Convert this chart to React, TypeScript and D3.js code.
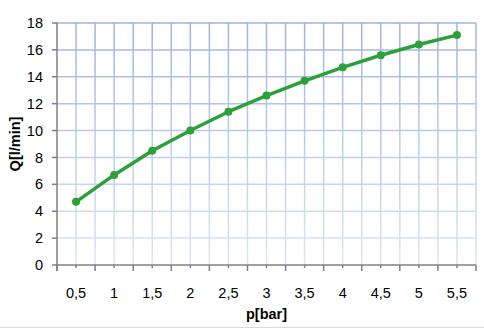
import React from 'react';
import * as d3 from 'd3';

const pressures = ['0,5', '1', '1,5', '2', '2,5', '3', '3,5', '4', '4,5', '5', '5,5'];
const flow = [4.7, 6.7, 8.5, 10.0, 11.4, 12.6, 13.7, 14.7, 15.6, 16.4, 17.1];
const yTicks = [0, 2, 4, 6, 8, 10, 12, 14, 16, 18];

const W = 484;
const H = 329;
const m = { top: 23, right: 8, bottom: 64, left: 57 };
const FONT = '"Liberation Sans", Arial, sans-serif';
const FS = 14.5;

export default function App() {
  const x = d3.scaleBand<string>().domain(pressures).range([m.left, W - m.right]).padding(0);
  const y = d3.scaleLinear().domain([0, 18]).range([H - m.bottom, m.top]);
  const bw = x.bandwidth();
  const cx = (p: string) => (x(p) as number) + bw / 2;

  const line = d3.line<number>()
    .x((_, i) => cx(pressures[i]))
    .y(d => y(d));

  const bounds = [...pressures.map(p => x(p) as number), x.range()[1]];
  const x0 = m.left;
  const x1 = W - m.right;
  const yb = y(0);

  return (
    <svg width={W} height={H} style={{ position: 'absolute', left: 0, top: 0, background: '#fff' }}>
      <defs>
        <linearGradient id="grid" gradientUnits="userSpaceOnUse" x1="0" y1={m.top} x2="0" y2={yb}>
          <stop offset="0" stopColor="#9db4e2" />
          <stop offset="1" stopColor="#dde5f5" />
        </linearGradient>
      </defs>
      {/* vertical gridlines at boundaries and centers */}
      {bounds.slice(1).map((b, i) => (
        <line key={'vb' + i} x1={b} x2={b} y1={m.top} y2={yb} stroke="url(#grid)" strokeWidth={1.5} />
      ))}
      {pressures.map(p => (
        <line key={'vc' + p} x1={cx(p)} x2={cx(p)} y1={m.top} y2={yb} stroke="url(#grid)" strokeWidth={1.5} />
      ))}
      {/* horizontal gridlines */}
      {yTicks.slice(1).map(t => (
        <line key={'h' + t} x1={x0} x2={x1} y1={y(t)} y2={y(t)} stroke="url(#grid)" strokeWidth={1.5} />
      ))}
      {/* y axis */}
      <line x1={x0} x2={x0} y1={m.top} y2={yb + 6} stroke="#808080" strokeWidth={1.5} />
      {yTicks.map(t => (
        <g key={'yt' + t}>
          <line x1={x0 - 5} x2={x0} y1={y(t)} y2={y(t)} stroke="#808080" strokeWidth={1.5} />
          <text x={x0 - 14} y={y(t)} dy="0.35em" textAnchor="end" fontFamily={FONT} fontSize={FS} fill="#000">{t}</text>
        </g>
      ))}
      {/* x axis */}
      <line x1={x0} x2={x1} y1={yb} y2={yb} stroke="#808080" strokeWidth={1.5} />
      {bounds.map((b, i) => (
        <line key={'xb' + i} x1={b} x2={b} y1={yb} y2={yb + 6} stroke="#808080" strokeWidth={1.5} />
      ))}
      {pressures.map(p => (
        <g key={'xt' + p}>
          <line x1={cx(p)} x2={cx(p)} y1={yb} y2={yb + 3} stroke="#808080" strokeWidth={1.5} />
          <text x={cx(p)} y={yb + 33} textAnchor="middle" fontFamily={FONT} fontSize={FS} fill="#000">{p}</text>
        </g>
      ))}
      {/* series */}
      <path d={line(flow) ?? ''} fill="none" stroke="#2ca039" strokeWidth={3.5} strokeLinejoin="round" />
      {flow.map((v, i) => (
        <circle key={'pt' + i} cx={cx(pressures[i])} cy={y(v)} r={4} fill="#2ca039" />
      ))}
      {/* axis titles */}
      <text x={(x0 + x1) / 2} y={H - 10} textAnchor="middle" fontFamily={FONT} fontSize={FS} fontWeight="bold" fill="#000">p[bar]</text>
      <text transform={`translate(20,${(m.top + yb) / 2}) rotate(-90)`} textAnchor="middle" fontFamily={FONT} fontSize={FS} fontWeight="bold" fill="#000">Q[l/min]</text>
      <line x1={0} x2={W} y1={H - 1.5} y2={H - 1.5} stroke="#d9d9d9" strokeWidth={1} />
    </svg>
  );
}
